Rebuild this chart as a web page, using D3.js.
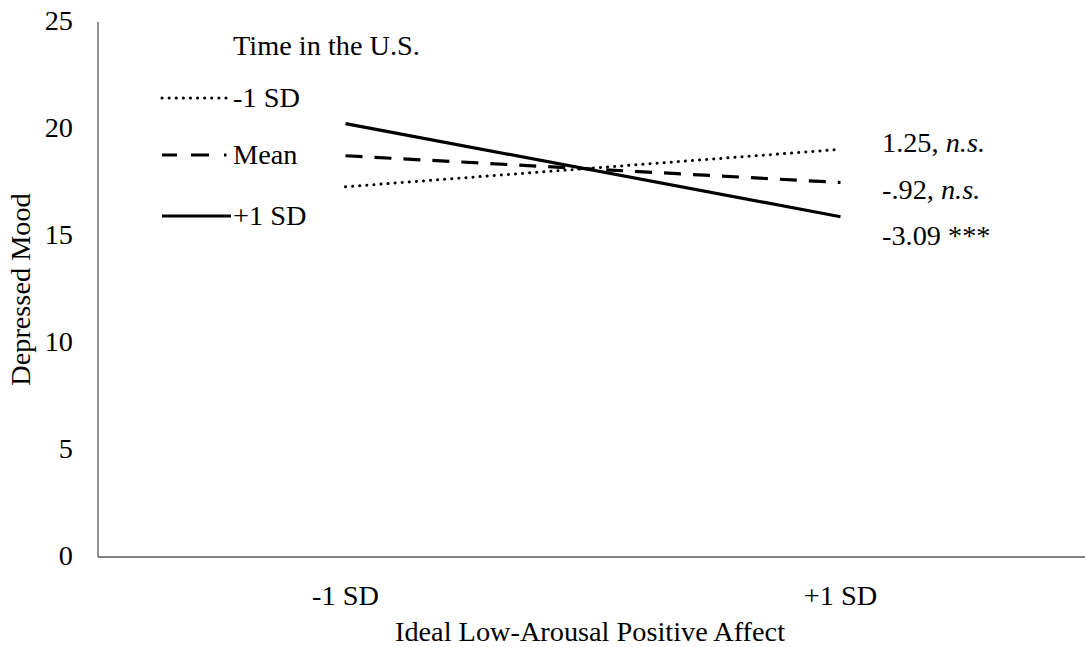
<!DOCTYPE html>
<html>
<head>
<meta charset="utf-8">
<script src="https://cdn.jsdelivr.net/npm/d3@7"></script>
<style>
  body { margin: 0; background: #fff; }
  text { font-family: "Liberation Serif", "Times New Roman", serif; fill: #000; }
</style>
</head>
<body>
<div id="chart"></div>
<script>
// x categories and y ticks
const categories = ["-1 SD", "+1 SD"];
const yTicks = [0, 5, 10, 15, 20, 25];

// series: Time in the U.S.
const seriesNames = ["-1 SD", "Mean", "+1 SD"];
const lowTime = [17.3, 19.05];
const meanTime = [18.75, 17.5];
const highTime = [20.25, 15.9];
const slopeLabels = ["1.25, ", "-.92, ", "-3.09 ***"];
const slopeItalic = ["n.s.", "n.s.", ""];

const width = 1085, height = 647;
const margin = {top: 22, right: 0, bottom: 90, left: 98};
const fontSize = "28.3px";

const svg = d3.select("#chart")
    .append("svg")
    .attr("width", width)
    .attr("height", height);

const x = d3.scalePoint()
    .domain(categories)
    .range([margin.left, 1088])
    .padding(0.5);

const y = d3.scaleLinear()
    .domain([0, 25])
    .range([height - margin.bottom, margin.top]);

// axes
const axisColor = "#595959";
svg.append("line")
    .attr("x1", margin.left).attr("x2", margin.left)
    .attr("y1", y(25)).attr("y2", y(0))
    .attr("stroke", axisColor).attr("stroke-width", 1.3);
svg.append("line")
    .attr("x1", margin.left).attr("x2", width)
    .attr("y1", y(0)).attr("y2", y(0))
    .attr("stroke", axisColor).attr("stroke-width", 1.3);

svg.selectAll(".ytick")
    .data(yTicks)
    .enter().append("text")
    .attr("class", "ytick")
    .attr("x", 73)
    .attr("y", d => y(d))
    .attr("dy", "0.3em")
    .attr("text-anchor", "end")
    .style("font-size", fontSize)
    .text(d => d);

svg.selectAll(".xtick")
    .data(categories)
    .enter().append("text")
    .attr("class", "xtick")
    .attr("x", d => x(d))
    .attr("y", 605)
    .attr("text-anchor", "middle")
    .style("font-size", fontSize)
    .text(d => d);

svg.append("text")
    .attr("x", 590)
    .attr("y", 641)
    .attr("text-anchor", "middle")
    .style("font-size", fontSize)
    .text("Ideal Low-Arousal Positive Affect");

svg.append("text")
    .attr("transform", "translate(30," + y(12.5) + ") rotate(-90)")
    .attr("text-anchor", "middle")
    .style("font-size", fontSize)
    .text("Depressed Mood");

// line styles per series
const styles = [
    {dash: "0.1 7", width: 3, cap: "round"},
    {dash: "17 12", width: 3.2, cap: "butt"},
    {dash: null, width: 3.2, cap: "butt"}
];
const data = [lowTime, meanTime, highTime];

const line = d3.line()
    .x((d, i) => x(categories[i]))
    .y(d => y(d));

svg.selectAll(".series")
    .data(data)
    .enter().append("path")
    .attr("class", "series")
    .attr("d", d => line(d))
    .attr("fill", "none")
    .attr("stroke", "#000")
    .attr("stroke-width", (d, i) => styles[i].width)
    .attr("stroke-linecap", (d, i) => styles[i].cap)
    .attr("stroke-dasharray", (d, i) => styles[i].dash);

// slope labels on the right
const lab = svg.selectAll(".slope")
    .data(slopeLabels)
    .enter().append("text")
    .attr("class", "slope")
    .attr("x", 882)
    .attr("y", (d, i) => 152 + i * 46.5)
    .style("font-size", fontSize);
lab.append("tspan").text(d => d);
lab.append("tspan")
    .style("font-style", "italic")
    .text((d, i) => slopeItalic[i]);

// legend
svg.append("text")
    .attr("x", 233)
    .attr("y", 55)
    .style("font-size", fontSize)
    .text("Time in the U.S.");

const legend = svg.selectAll(".legend")
    .data(seriesNames)
    .enter().append("g")
    .attr("class", "legend")
    .attr("transform", (d, i) => "translate(162," + [98, 155, 216][i] + ")");

legend.append("line")
    .attr("x1", 0).attr("x2", 69)
    .attr("y1", 0).attr("y2", 0)
    .attr("stroke", "#000")
    .attr("stroke-width", (d, i) => styles[i].width)
    .attr("stroke-linecap", (d, i) => styles[i].cap)
    .attr("stroke-dasharray", (d, i) => i === 1 ? "15 14 18 15 2.5 100" : styles[i].dash);

legend.append("text")
    .attr("x", 71)
    .attr("dy", "0.33em")
    .style("font-size", fontSize)
    .text(d => d);
</script>
</body>
</html>
